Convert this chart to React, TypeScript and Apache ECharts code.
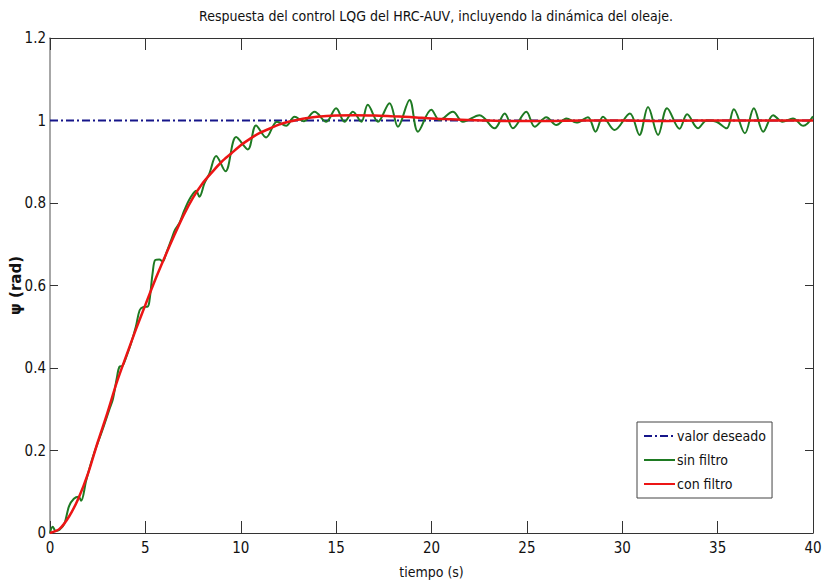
import React, { useEffect, useRef } from "react";
import * as echarts from "echarts";

const chartTitle = "Respuesta del control LQG del HRC-AUV, incluyendo la dinámica del oleaje.";
const xName = "tiempo (s)";
const yName = "ψ (rad)";
const seriesNames = ["valor deseado", "sin filtro", "con filtro"];
const yTickLabels = ["0", "0.2", "0.4", "0.6", "0.8", "1", "1.2"];

const desiredT = [0, 40];
const desiredV = [1, 1];

const redT = [0, 0.5, 1, 1.5, 2, 2.5, 3, 3.5, 4, 4.5, 5, 5.5, 6, 6.5, 7, 7.5, 8, 8.5, 9, 9.5, 10, 10.5, 11, 11.5, 12, 12.5, 13, 13.5, 14, 15, 16, 17, 18, 19, 20, 21, 22, 23, 24, 26, 28, 30, 32, 34, 36, 38, 40];
const redV = [0, 0.01, 0.04, 0.085, 0.145, 0.22, 0.29, 0.365, 0.43, 0.493, 0.553, 0.612, 0.667, 0.72, 0.77, 0.813, 0.848, 0.875, 0.9, 0.92, 0.94, 0.956, 0.97, 0.98, 0.99, 0.997, 1.002, 1.006, 1.009, 1.012, 1.013, 1.012, 1.01, 1.008, 1.005, 1.003, 1.001, 1.0, 0.999, 0.999, 1.0, 1.0, 0.999, 1.0, 1.0, 1.0, 1.0];

const greenT = [0, 0.14, 0.3, 0.5, 0.75, 1.0, 1.25, 1.5, 1.63, 1.9, 2.25, 2.75, 3.1, 3.3, 3.5, 3.64, 3.8, 4.0, 4.25, 4.5, 4.7, 4.9, 5.12, 5.22, 5.38, 5.52, 5.73, 5.91, 6.09, 6.35, 6.55, 6.78, 7.05, 7.35, 7.66, 7.83, 8.1, 8.36, 8.71, 9.2, 9.76, 10.37, 10.8, 11.33, 11.9, 12.38, 12.82, 13.3, 13.87, 14.48, 15.0, 15.44, 15.88, 16.32, 16.66, 17.19, 17.8, 18.24, 18.85, 19.29, 19.99, 20.42, 21.12, 21.65, 22.52, 23.31, 23.84, 24.27, 24.97, 25.41, 26.02, 26.55, 27.07, 27.6, 28.2, 28.6, 28.99, 29.6, 30.4, 30.9, 31.35, 31.88, 32.35, 33.0, 33.4, 33.97, 34.42, 34.94, 35.47, 35.85, 36.43, 36.9, 37.39, 37.91, 38.4, 38.95, 39.49, 40];
const greenV = [0, 0.015, 0.005, 0.008, 0.022, 0.065, 0.083, 0.088, 0.078, 0.128, 0.185, 0.25, 0.298, 0.325, 0.375, 0.403, 0.405, 0.427, 0.46, 0.5, 0.54, 0.548, 0.549, 0.565, 0.63, 0.662, 0.663, 0.658, 0.678, 0.71, 0.735, 0.751, 0.783, 0.812, 0.83, 0.815, 0.848, 0.872, 0.914, 0.877, 0.96, 0.93, 0.988, 0.959, 0.997, 0.987, 1.009, 0.998, 1.021, 0.997, 1.03, 0.997, 1.021, 0.997, 1.038, 0.997, 1.042, 0.985, 1.05, 0.973, 1.026, 1.001, 1.021, 0.997, 1.013, 0.981, 1.017, 0.981, 1.021, 0.985, 1.008, 0.989, 1.005, 0.995, 1.008, 0.973, 1.009, 0.977, 1.017, 0.965, 1.033, 0.965, 1.03, 0.98, 1.015, 0.981, 1.0, 0.997, 0.981, 1.027, 0.969, 1.03, 0.973, 1.013, 0.997, 1.005, 0.987, 1.01];

const NARROW = "'Liberation Sans Narrow', 'Arial Narrow', 'DejaVu Sans Condensed', sans-serif";
const AXIS_DARK = "#333333";

function pairs(t: number[], v: number[]) {
  return t.map((x, i) => [x, v[i]]);
}

export default function App() {
  const ref = useRef<HTMLDivElement>(null);
  useEffect(() => {
    if (!ref.current) return;
    const chart = echarts.init(ref.current, null, { renderer: "svg" });
    const xBase = {
      type: "value" as const,
      min: 0,
      max: 40,
      interval: 5,
      splitLine: { show: false },
    };
    const yBase = {
      type: "value" as const,
      min: 0,
      max: 1.2,
      interval: 0.2,
      splitLine: { show: false },
    };
    chart.setOption({
      animation: false,
      backgroundColor: "#ffffff",
      title: {
        text: chartTitle,
        left: 431,
        top: 4,
        textAlign: "center",
        textStyle: { fontFamily: NARROW, fontSize: 14, fontWeight: "normal", color: "#111" },
      },
      grid: { left: 50, right: 9, top: 38, bottom: 51, containLabel: false, outerBoundsMode: "none" },
      legend: {
        orient: "vertical",
        left: 637,
        top: 422,
        padding: [7, 6, 7, 6],
        itemGap: 10,
        itemWidth: 31,
        itemHeight: 16,
        backgroundColor: "#ffffff",
        borderColor: "#444",
        borderWidth: 1,
        borderRadius: 0,
        data: seriesNames,
        itemStyle: { opacity: 0 },
        textStyle: { fontFamily: NARROW, fontSize: 14, color: "#111", padding: [0, 0, 0, -3] },
      },
      xAxis: [
        {
          ...xBase,
          position: "bottom",
          name: xName,
          nameLocation: "middle",
          nameGap: 32,
          nameMoveOverlap: false,
          nameTextStyle: { fontFamily: NARROW, fontSize: 14, color: "#111" },
          axisLine: { show: true, onZero: false, lineStyle: { color: AXIS_DARK, width: 1 } },
          axisTick: { inside: true, length: 12, lineStyle: { color: AXIS_DARK } },
          axisLabel: { fontFamily: NARROW, fontSize: 15, color: "#111", margin: 7 },
        },
        {
          ...xBase,
          position: "top",
          axisLine: { show: true, onZero: false, lineStyle: { color: AXIS_DARK, width: 1 } },
          axisTick: { inside: true, length: 12, lineStyle: { color: AXIS_DARK } },
          axisLabel: { show: false },
        },
      ],
      yAxis: [
        {
          ...yBase,
          position: "left",
          name: yName,
          nameLocation: "middle",
          nameGap: 27,
          nameMoveOverlap: false,
          nameRotate: 90,
          nameTextStyle: { fontFamily: "'DejaVu Sans', sans-serif", fontSize: 15, fontWeight: "bold", color: "#111" },
          axisLine: { show: true, onZero: false, lineStyle: { color: "#8a8a8a", width: 1.5 } },
          axisTick: { inside: true, length: 8, lineStyle: { color: AXIS_DARK } },
          axisLabel: {
            fontFamily: NARROW,
            fontSize: 15,
            color: "#111",
            margin: 4,
            formatter: (v: number) => yTickLabels[Math.round(v / 0.2)] ?? "",
          },
        },
        {
          ...yBase,
          position: "right",
          axisLine: { show: true, onZero: false, lineStyle: { color: AXIS_DARK, width: 1 } },
          axisTick: { inside: true, length: 8, lineStyle: { color: AXIS_DARK } },
          axisLabel: { show: false },
        },
      ],
      series: [
        {
          name: seriesNames[0],
          type: "line",
          xAxisIndex: 0,
          yAxisIndex: 0,
          data: pairs(desiredT, desiredV),
          symbol: "none",
          lineStyle: { color: "#16168a", width: 2, type: [8, 3, 2, 3] },
          itemStyle: { color: "#1a1ad0" },
        },
        {
          name: seriesNames[1],
          type: "line",
          xAxisIndex: 0,
          yAxisIndex: 0,
          data: pairs(greenT, greenV),
          symbol: "none",
          smooth: 0.35,
          lineStyle: { color: "#1e7a22", width: 2 },
          itemStyle: { color: "#1e7a22" },
        },
        {
          name: seriesNames[2],
          type: "line",
          xAxisIndex: 0,
          yAxisIndex: 0,
          data: pairs(redT, redV),
          symbol: "none",
          smooth: 0.3,
          lineStyle: { color: "#ec1515", width: 2.5 },
          itemStyle: { color: "#ec1515" },
        },
      ],
    });
    return () => chart.dispose();
  }, []);
  return (
    <div
      ref={ref}
      style={{ position: "fixed", left: 0, top: 0, width: 822, height: 584, background: "#fff" }}
    />
  );
}
